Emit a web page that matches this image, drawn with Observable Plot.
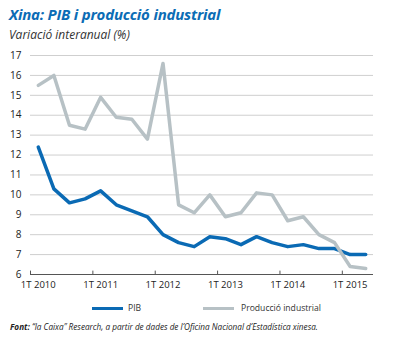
<!DOCTYPE html>
<html>
<head>
<meta charset="utf-8">
<script src="https://cdn.jsdelivr.net/npm/d3@7"></script>
<script src="https://cdn.jsdelivr.net/npm/@observablehq/plot@0.6"></script>
<style>
  body { margin: 0; background: #fff; }
  #wrap { position: relative; width: 396px; height: 338px; overflow: hidden; font-family: "Open Sans", sans-serif; }
  #chart { position: absolute; left: 0; top: 0; }
  .t { position: absolute; white-space: nowrap; }
  #title { left: 9px; top: 4px; font-size: 15px; font-weight: bold; font-style: italic; color: #0b6cb5; letter-spacing: -0.2px; }
  #subtitle { left: 9px; top: 26px; font-size: 12px; font-style: italic; color: #333; }
  .leg { top: 302px; font-size: 8.6px; color: #333; }
  .sw { position: absolute; height: 3px; top: 307px; }
  #source { left: 10px; top: 321px; font-size: 8.2px; font-style: italic; color: #222; }
</style>
</head>
<body>
<div id="wrap">
  <div id="chart"></div>
  <div class="t" id="title">Xina: PIB i producció industrial</div>
  <div class="t" id="subtitle">Variació interanual (%)</div>
  <div class="sw" style="left:92px;width:31px;background:#0a6ab4"></div>
  <div class="t leg" style="left:128px">PIB</div>
  <div class="sw" style="left:203px;width:31px;background:#b7c1c5"></div>
  <div class="t leg" style="left:241px">Producció industrial</div>
  <div class="t" id="source"><b>Font:</b> “la Caixa” Research, a partir de dades de l’Oficina Nacional d’Estadística xinesa.</div>
</div>
<script>
const quarters = ["1T 2010","2T 2010","3T 2010","4T 2010","1T 2011","2T 2011","3T 2011","4T 2011","1T 2012","2T 2012","3T 2012","4T 2012","1T 2013","2T 2013","3T 2013","4T 2013","1T 2014","2T 2014","3T 2014","4T 2014","1T 2015","2T 2015"];
const pib = [12.4,10.3,9.6,9.8,10.2,9.5,9.2,8.9,8.0,7.6,7.4,7.9,7.8,7.5,7.9,7.6,7.4,7.5,7.3,7.3,7.0,7.0];
const industrial = [15.5,16.0,13.5,13.3,14.9,13.9,13.8,12.8,16.6,9.5,9.1,10.0,8.9,9.1,10.1,10.0,8.7,8.9,8.0,7.6,6.4,6.3];
const yTicks = [6,7,8,9,10,11,12,13,14,15,16,17];
const xLabelIdx = [0,4,8,12,16,20];
const xTickPos = [-0.5,3.5,7.5,11.5,15.5,19.5];

const rows = (arr) => arr.map((v, i) => ({i, v}));

const chart = Plot.plot({
  width: 396,
  height: 338,
  marginTop: 55,
  marginBottom: 64,
  marginLeft: 30,
  marginRight: 23,
  style: {fontFamily: '"Open Sans", sans-serif', fontSize: "9.5px", color: "#222", background: "transparent"},
  x: {domain: [-0.5, 21.5], axis: null},
  y: {domain: [6, 17], axis: null},
  marks: [
    Plot.ruleY(yTicks.filter(d => d > 6), {stroke: "#cfcfcf", strokeWidth: 1}),
    Plot.axisY({ticks: yTicks, tickSize: 0, tickPadding: 9, fill: "#222", label: null, fontSize: 10}),
    Plot.ruleY([6], {stroke: "#555", strokeWidth: 1}),
    Plot.ruleX(xTickPos, {y1: 6, y2: 6.17, stroke: "#555", strokeWidth: 1}),
    Plot.axisX({ticks: xLabelIdx, tickFormat: i => quarters[i], tickSize: 0, tickPadding: 7, fill: "#222", label: null}),
    Plot.line(rows(pib), {x: "i", y: "v", stroke: "#0a6ab4", strokeWidth: 3.5}),
    Plot.line(rows(industrial), {x: "i", y: "v", stroke: "#b7c1c5", strokeWidth: 3.5})
  ]
});
document.getElementById("chart").appendChild(chart);
</script>
</body>
</html>
